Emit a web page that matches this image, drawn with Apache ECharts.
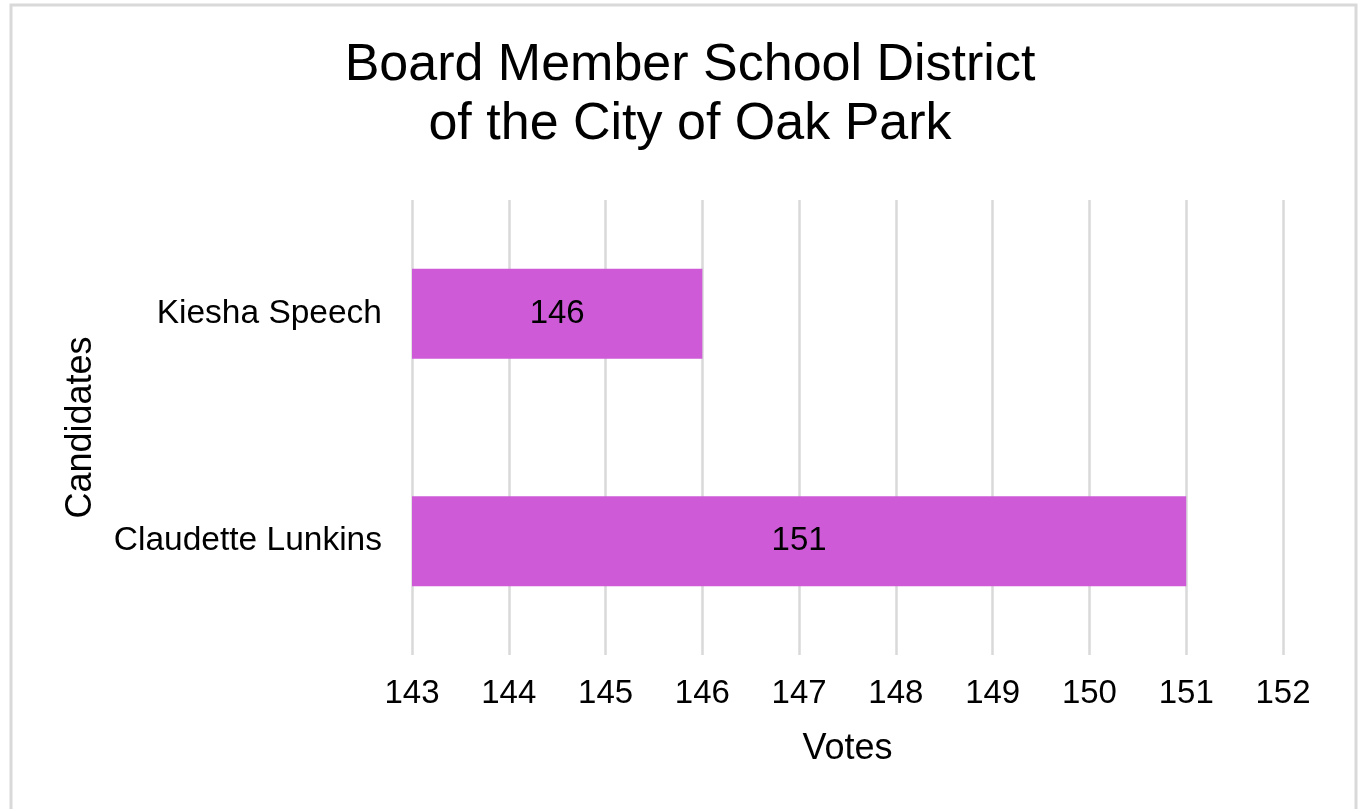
<!DOCTYPE html>
<html>
<head>
<meta charset="utf-8">
<title>Board Member School District of the City of Oak Park</title>
<script src="https://cdn.jsdelivr.net/npm/echarts@6/dist/echarts.min.js"></script>
<style>
  html, body { margin: 0; padding: 0; background: #ffffff; }
  #chart { width: 1361px; height: 809px; }
</style>
</head>
<body>
<div id="chart"></div>
<script>
// Candidates and vote totals
const candidates = ['Claudette Lunkins', 'Kiesha Speech'];
const votes = [151, 146];
const voteTicks = [143, 144, 145, 146, 147, 148, 149, 150, 151, 152];

const FONT = '"Liberation Sans", Arial, sans-serif';
const BAR_COLOR = '#ce5ad8';

const chart = echarts.init(document.getElementById('chart'), null, { renderer: 'canvas' });

chart.setOption({
  backgroundColor: '#ffffff',
  animation: false,
  title: {
    text: 'Board Member School District\nof the City of Oak Park',
    left: 685,
    top: 31,
    textAlign: 'center',
    textStyle: {
      fontFamily: FONT,
      fontSize: 52,
      fontWeight: 'normal',
      color: '#000000',
      lineHeight: 59
    }
  },
  graphic: [{
    type: 'rect',
    shape: { x: 11, y: 5, width: 1345, height: 830 },
    style: { fill: 'none', stroke: '#d9d9d9', lineWidth: 3 },
    silent: true
  }],
  grid: {
    left: 412,
    right: 78,
    top: 200,
    bottom: 154
  },
  xAxis: {
    type: 'value',
    min: voteTicks[0],
    max: voteTicks[voteTicks.length - 1],
    interval: 1,
    name: 'Votes',
    nameLocation: 'middle',
    nameGap: 76,
    nameTextStyle: { fontFamily: FONT, fontSize: 36, color: '#000000' },
    axisLine: { show: false },
    axisTick: { show: false },
    axisLabel: {
      margin: 22,
      fontFamily: FONT,
      fontSize: 33,
      color: '#000000'
    },
    splitLine: { show: true, lineStyle: { color: '#d9d9d9', width: 2.5 } }
  },
  yAxis: {
    type: 'category',
    data: candidates,
    name: 'Candidates',
    nameLocation: 'middle',
    nameGap: 313,
    nameRotate: 90,
    nameTextStyle: { fontFamily: FONT, fontSize: 36, color: '#000000' },
    axisLine: { show: false },
    axisTick: { show: false },
    axisLabel: {
      margin: 30,
      fontFamily: FONT,
      fontSize: 33.5,
      color: '#000000'
    },
    splitLine: { show: false }
  },
  series: [{
    type: 'bar',
    data: votes,
    barWidth: 90,
    itemStyle: { color: BAR_COLOR },
    label: {
      show: true,
      position: 'inside',
      fontFamily: FONT,
      fontSize: 33,
      color: '#000000'
    }
  }]
});
</script>
</body>
</html>
